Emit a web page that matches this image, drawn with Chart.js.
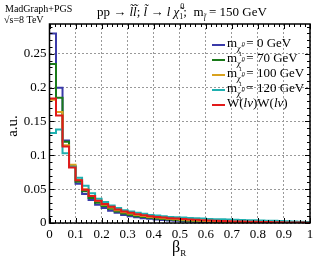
<!DOCTYPE html>
<html lang="en">
<head>
    <meta charset="UTF-8">
    <title>beta_R distribution</title>
    <style>
        html, body { margin: 0; padding: 0; background: #fff; }
        #wrap { width: 332px; height: 263px; }
    </style>
</head>
<body>
    <div id="wrap"><canvas id="chart" width="332" height="263"></canvas></div>

    <script src="https://cdn.jsdelivr.net/npm/chart.js"></script>
    <script>
        // bin edges (width 0.025, 0 .. 1)
        const binWidth = 0.025;
        const binEdges = [];
        for (let i = 0; i < 40; i++) binEdges.push(+(i * binWidth).toFixed(3));

        const xTicks = [0, 0.1, 0.2, 0.3, 0.4, 0.5, 0.6, 0.7, 0.8, 0.9, 1];
        const yTicks = [0, 0.05, 0.1, 0.15, 0.2, 0.25];

        const legendNames = ['0 GeV', '70 GeV', '100 GeV', '120 GeV', 'W(lν)W(lν)'];

        // values (a.u. per bin)
        const m0 = [0.280, 0.200, 0.122, 0.083, 0.058, 0.043, 0.034, 0.027, 0.022, 0.018,
                    0.015, 0.012, 0.010, 0.0085, 0.0072, 0.0062, 0.0053, 0.0045, 0.0038, 0.0032,
                    0.0027, 0.0023, 0.0019, 0.0016, 0.0013, 0.0011, 0.0009, 0.0008, 0.0006, 0.0005,
                    0.0004, 0.0003, 0.0003, 0.0002, 0.0002, 0.0001, 0.0001, 0.0001, 0.0, 0.0];
        const m70 = [0.235, 0.185, 0.120, 0.084, 0.061, 0.047, 0.037, 0.030, 0.025, 0.021,
                     0.017, 0.014, 0.012, 0.010, 0.0088, 0.0077, 0.0067, 0.0058, 0.0050, 0.0044,
                     0.0038, 0.0033, 0.0029, 0.0025, 0.0022, 0.0019, 0.0016, 0.0014, 0.0012, 0.0010,
                     0.0009, 0.0008, 0.0007, 0.0006, 0.0005, 0.0004, 0.0003, 0.0003, 0.0002, 0.0002];
        const m100 = [0.182, 0.164, 0.115, 0.086, 0.064, 0.050, 0.040, 0.033, 0.027, 0.023,
                      0.019, 0.016, 0.014, 0.012, 0.0105, 0.0090, 0.0080, 0.0070, 0.0062, 0.0055,
                      0.0048, 0.0042, 0.0037, 0.0033, 0.0029, 0.0025, 0.0022, 0.0019, 0.0017, 0.0015,
                      0.0013, 0.0011, 0.0010, 0.0009, 0.0008, 0.0007, 0.0006, 0.0005, 0.0004, 0.0003];
        const m120 = [0.133, 0.138, 0.103, 0.083, 0.067, 0.055, 0.044, 0.036, 0.031, 0.026,
                      0.022, 0.019, 0.017, 0.015, 0.0135, 0.012, 0.011, 0.010, 0.009, 0.0085,
                      0.008, 0.0075, 0.007, 0.0065, 0.006, 0.0057, 0.0054, 0.005, 0.0047, 0.0045,
                      0.0042, 0.004, 0.0037, 0.0035, 0.0032, 0.003, 0.0027, 0.0024, 0.002, 0.0015];
        const ww = [0.184, 0.159, 0.113, 0.082, 0.063, 0.049, 0.040, 0.033, 0.028, 0.024,
                    0.020, 0.017, 0.015, 0.013, 0.0115, 0.010, 0.009, 0.008, 0.0072, 0.0065,
                    0.0058, 0.0052, 0.0047, 0.0042, 0.0038, 0.0034, 0.0030, 0.0027, 0.0024, 0.0021,
                    0.0019, 0.0017, 0.0015, 0.0013, 0.0012, 0.0010, 0.0009, 0.0008, 0.0006, 0.0005];

        const colors = ['#3a3aa8', '#1a7a1a', '#d9a21e', '#1fb0b0', '#e21a1a'];
        const series = [m0, m70, m100, m120, ww];

        const SERIF = '"Liberation Serif", "DejaVu Serif", serif';

        // histogram as stepped line: one point per left edge + closing point at x=1
        function histPoints(vals) {
            const pts = binEdges.map((e, i) => ({ x: e, y: vals[i] }));
            pts.push({ x: 1, y: vals[vals.length - 1] });
            return pts;
        }

        function drawRuns(ctx, x, y, runs) {
            runs.forEach(r => {
                ctx.font = r.font;
                ctx.fillText(r.t, x + (r.dx || 0), y + (r.dy || 0));
                if (!r.stay) x += ctx.measureText(r.t).width + (r.dx || 0);
            });
            return x;
        }

        // frame, inward ticks, texts and legend
        const decor = {
            id: 'decor',
            afterDraw(chart) {
                const ctx = chart.ctx;
                const a = chart.chartArea;
                const xs = chart.scales.x, ys = chart.scales.y;
                ctx.save();
                ctx.strokeStyle = '#000';

                // minor / major ticks on all four sides
                ctx.lineWidth = 1;
                ctx.beginPath();
                for (let i = 0; i <= 50; i++) {
                    const px = Math.round(xs.getPixelForValue(i * 0.02)) + 0.5;
                    const len = (i % 5 === 0) ? 5 : 3;
                    ctx.moveTo(px, a.bottom); ctx.lineTo(px, a.bottom - len);
                    ctx.moveTo(px, a.top); ctx.lineTo(px, a.top + len);
                }
                for (let i = 0; i <= 29; i++) {
                    const py = Math.round(ys.getPixelForValue(i * 0.01)) + 0.5;
                    const len = (i % 5 === 0) ? 5 : 3;
                    ctx.moveTo(a.left, py); ctx.lineTo(a.left + len, py);
                    ctx.moveTo(a.right, py); ctx.lineTo(a.right - len, py);
                }
                ctx.stroke();

                ctx.lineWidth = 1.5;
                ctx.strokeRect(a.left, a.top, a.right - a.left, a.bottom - a.top);

                ctx.fillStyle = '#000';
                ctx.textBaseline = 'alphabetic';
                ctx.textAlign = 'left';

                // top-left notes
                ctx.font = '10px ' + SERIF;
                ctx.fillText('MadGraph+PGS', 5, 12);
                ctx.fillText('\u221As=8 TeV', 4, 23);

                // title
                const f = '13px ' + SERIF, fi = 'italic 13px ' + SERIF, fs = '8px ' + SERIF, fsi = 'italic 8px ' + SERIF;
                drawRuns(ctx, 97, 16, [
                    { t: 'pp \u2192 ', font: f },
                    { t: 'l\u0303l\u0303', font: fi },
                    { t: '; ', font: f },
                    { t: 'l\u0303', font: fi },
                    { t: ' \u2192 ', font: f },
                    { t: 'l \u03C7\u0303', font: fi },
                    { t: '0', font: fs, dx: 1, dy: -7, stay: true },
                    { t: '1', font: fs, dy: 3 },
                    { t: ';  m', font: f },
                    { t: 'l\u0303', font: fsi, dy: 5 },
                    { t: ' = 150 GeV', font: f }
                ]);

                // axis titles
                ctx.font = '15px ' + SERIF;
                ctx.save();
                ctx.translate(17, 126);
                ctx.rotate(-Math.PI / 2);
                ctx.textAlign = 'center';
                ctx.fillText('a.u.', 0, 0);
                ctx.restore();

                drawRuns(ctx, 172, 252, [
                    { t: '\u03B2', font: '16px ' + SERIF },
                    { t: 'R', font: '9px ' + SERIF, dy: 4 }
                ]);

                // legend
                const ly = [47, 62, 77, 92, 107];
                legendNames.forEach((name, i) => {
                    ctx.strokeStyle = colors[i];
                    ctx.lineWidth = 2;
                    ctx.beginPath();
                    ctx.moveTo(212, ly[i] - 2); ctx.lineTo(225, ly[i] - 2);
                    ctx.stroke();
                    ctx.fillStyle = '#000';
                    if (i < 4) {
                        drawRuns(ctx, 227, ly[i], [
                            { t: 'm', font: f },
                            { t: '\u03C7\u0303', font: fsi, dy: 4, stay: true },
                            { t: '0', font: '6px ' + SERIF, dx: 5, dy: -1, stay: true },
                            { t: '1', font: '6px ' + SERIF, dx: 2, dy: 9 },
                            { t: ' = ' + name, font: f, dx: 1 }
                        ]);
                    } else {
                        drawRuns(ctx, 227, ly[i], [
                            { t: 'W(', font: f },
                            { t: 'l\u03BD', font: fi },
                            { t: ')W(', font: f },
                            { t: 'l\u03BD', font: fi },
                            { t: ')', font: f }
                        ]);
                    }
                });
                ctx.restore();
            }
        };

        const datasets = series.map((vals, i) => ({
            label: legendNames[i],
            data: histPoints(vals),
            borderColor: colors[i],
            borderWidth: 2,
            stepped: 'before',
            pointRadius: 0,
            fill: false,
            order: 4 - i
        }));

        const tickFont = { family: SERIF, size: 13 };

        new Chart(document.getElementById('chart').getContext('2d'), {
            type: 'line',
            data: { datasets: datasets },
            plugins: [decor],
            options: {
                responsive: false,
                animation: false,
                layout: { padding: { left: 0, top: 24, right: 22, bottom: 0 } },
                plugins: { legend: { display: false }, tooltip: { enabled: false } },
                scales: {
                    x: {
                        type: 'linear',
                        min: 0,
                        max: 1,
                        afterBuildTicks: s => { s.ticks = xTicks.map(v => ({ value: v })); },
                        afterFit: s => { s.height = 40; },
                        ticks: { font: tickFont, color: '#000', padding: 4, callback: v => String(+v.toFixed(1)) },
                        grid: { color: '#999', lineWidth: 1, drawTicks: false },
                        border: { display: false, dash: [2, 2] }
                    },
                    y: {
                        type: 'linear',
                        min: 0,
                        max: 0.294,
                        afterBuildTicks: s => { s.ticks = yTicks.map(v => ({ value: v })); },
                        afterFit: s => { s.width = 49.5; },
                        ticks: { font: tickFont, color: '#000', padding: 3, callback: v => String(+v.toFixed(2)) },
                        grid: { color: '#999', lineWidth: 1, drawTicks: false },
                        border: { display: false, dash: [2, 2] }
                    }
                }
            }
        });
    </script>
</body>
</html>
